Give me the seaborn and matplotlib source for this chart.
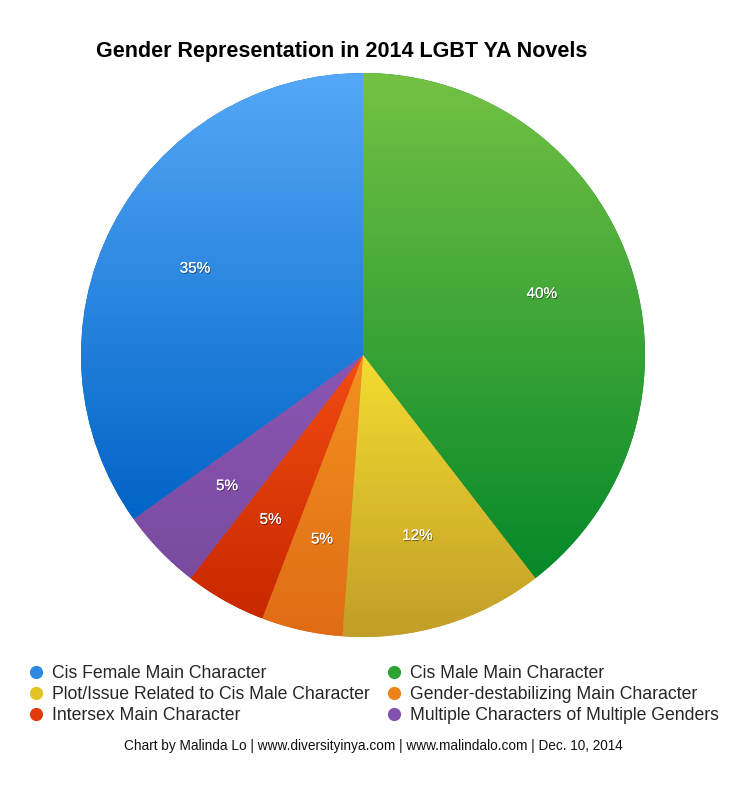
import numpy as np
import matplotlib.pyplot as plt
import matplotlib.patheffects as pe
from matplotlib.colors import LinearSegmentedColormap
from matplotlib.lines import Line2D
import seaborn as sns

sns.set_theme(style="white")
plt.rcParams['font.family'] = ['Liberation Sans', 'DejaVu Sans']

# data (book counts, pie order clockwise from 12 o'clock)
categories = ["Cis Male Main Character",
              "Plot/Issue Related to Cis Male Character",
              "Gender-destabilizing Main Character",
              "Intersex Main Character",
              "Multiple Characters of Multiple Genders",
              "Cis Female Main Character"]
counts = [17, 5, 2, 2, 2, 15]
# legend is filled column by column
legend_order = [5, 1, 3, 0, 2, 4]

top_colors = ["#74c244", "#f4dc30", "#f2921e", "#f24c12", "#8a56b2", "#55a8f8"]
bot_colors = ["#068829", "#c19e28", "#e06c16", "#c82800", "#7a4aa0", "#0064c6"]
mid_colors = ["#2ea233", "#e2c424", "#ea8418", "#e23c0e", "#8250ae", "#2c88e0"]

fig = plt.figure(figsize=(7.48, 7.86), dpi=100)
fig.patch.set_facecolor("white")
ax = fig.add_axes([81 / 748, 1 - 637 / 786, 564 / 748, 564 / 786])

wedges, texts, autotexts = ax.pie(
    counts, startangle=90, counterclock=False, radius=1,
    autopct=lambda p: f"{p:.0f}%", pctdistance=0.67,
    wedgeprops=dict(linewidth=0, edgecolor="none"),
    textprops=dict(color="white", fontsize=11))

for w, top, bot in zip(wedges, top_colors, bot_colors):
    w.set_facecolor(bot)
    (x0, y0), (x1, y1) = w.get_path().get_extents().get_points()
    cmap = LinearSegmentedColormap.from_list("", [bot, top])
    im = ax.imshow(np.linspace(0, 1, 256).reshape(-1, 1), cmap=cmap,
                   extent=[x0, x1, y0, y1], origin="lower", aspect="auto",
                   interpolation="bilinear", zorder=w.get_zorder() + 0.1)
    im.set_clip_path(w)

for t in autotexts:
    t.set_zorder(5)
    t.set_path_effects([pe.withSimplePatchShadow(offset=(0.6, -0.8),
                                                 shadow_rgbFace="black",
                                                 alpha=0.45), pe.Normal()])

ax.set_xlim(-1, 1)
ax.set_ylim(-1, 1)
ax.set_axis_off()

fig.text(342 / 748, 1 - 51 / 786, "Gender Representation in 2014 LGBT YA Novels",
         ha="center", va="center", fontsize=15.5, fontweight="bold", color="black")

handles = [Line2D([], [], linestyle="none", marker="o", markersize=9.5,
                  markerfacecolor=mid_colors[i], markeredgecolor="none")
           for i in legend_order]
labels = [categories[i] for i in legend_order]
fig.legend(handles, labels, ncol=2, loc="upper left",
           bbox_to_anchor=(26 / 748, 1 - 665 / 786), frameon=False,
           fontsize=12.7, handletextpad=0.36, columnspacing=0.85,
           labelspacing=0.22, handlelength=1.1, borderaxespad=0,
           borderpad=0)

fig.text(373 / 748, 1 - 746 / 786,
         "Chart by Malinda Lo | www.diversityinya.com | www.malindalo.com | Dec. 10, 2014",
         ha="center", va="center", fontsize=9.85, color="#111111")

fig.savefig("out.png", dpi=100, facecolor="white")
